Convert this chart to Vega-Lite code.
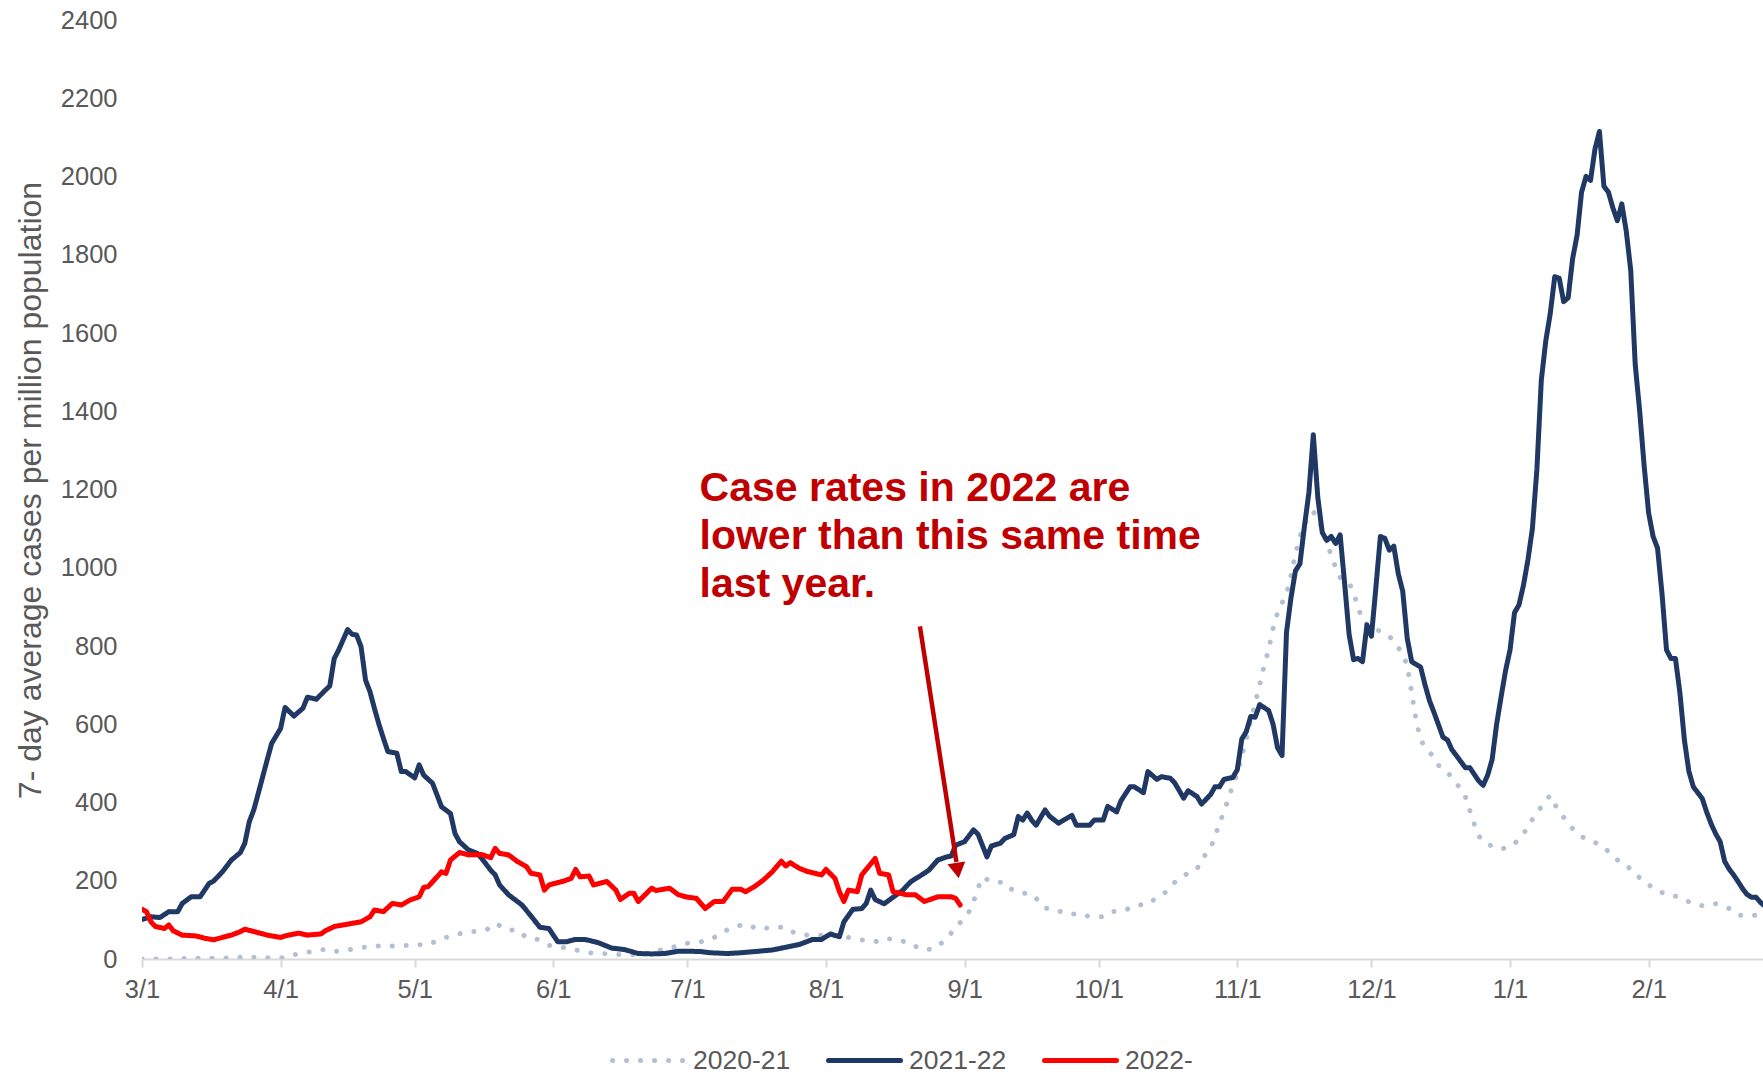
{
  "$schema": "https://vega.github.io/schema/vega-lite/v6.json",
  "width": 1621,
  "height": 939,
  "autosize": {"type": "none"},
  "padding": {"left": 142, "top": 20, "right": 0, "bottom": 116},
  "background": "white",
  "config": {"view": {"stroke": null}, "font": "Liberation Sans"},
  "datasets": {
    "cases": [
      {"date":"2021-03-01","season":"2020-21","cases":0},
      {"date":"2021-03-04","season":"2020-21","cases":0},
      {"date":"2021-03-07","season":"2020-21","cases":0},
      {"date":"2021-03-10","season":"2020-21","cases":1},
      {"date":"2021-03-13","season":"2020-21","cases":2},
      {"date":"2021-03-16","season":"2020-21","cases":2},
      {"date":"2021-03-19","season":"2020-21","cases":2},
      {"date":"2021-03-22","season":"2020-21","cases":3},
      {"date":"2021-03-24","season":"2020-21","cases":6},
      {"date":"2021-03-27","season":"2020-21","cases":4},
      {"date":"2021-03-30","season":"2020-21","cases":3},
      {"date":"2021-04-02","season":"2020-21","cases":3},
      {"date":"2021-04-05","season":"2020-21","cases":14},
      {"date":"2021-04-08","season":"2020-21","cases":19},
      {"date":"2021-04-11","season":"2020-21","cases":25},
      {"date":"2021-04-13","season":"2020-21","cases":19},
      {"date":"2021-04-16","season":"2020-21","cases":23},
      {"date":"2021-04-19","season":"2020-21","cases":29},
      {"date":"2021-04-22","season":"2020-21","cases":33},
      {"date":"2021-04-25","season":"2020-21","cases":33},
      {"date":"2021-04-28","season":"2020-21","cases":33},
      {"date":"2021-05-01","season":"2020-21","cases":37},
      {"date":"2021-05-04","season":"2020-21","cases":36},
      {"date":"2021-05-06","season":"2020-21","cases":47},
      {"date":"2021-05-09","season":"2020-21","cases":59},
      {"date":"2021-05-12","season":"2020-21","cases":67},
      {"date":"2021-05-14","season":"2020-21","cases":70},
      {"date":"2021-05-17","season":"2020-21","cases":74},
      {"date":"2021-05-19","season":"2020-21","cases":91},
      {"date":"2021-05-22","season":"2020-21","cases":74},
      {"date":"2021-05-24","season":"2020-21","cases":74},
      {"date":"2021-05-26","season":"2020-21","cases":55},
      {"date":"2021-05-29","season":"2020-21","cases":49},
      {"date":"2021-05-31","season":"2020-21","cases":35},
      {"date":"2021-06-03","season":"2020-21","cases":30},
      {"date":"2021-06-06","season":"2020-21","cases":23},
      {"date":"2021-06-09","season":"2020-21","cases":16},
      {"date":"2021-06-11","season":"2020-21","cases":14},
      {"date":"2021-06-14","season":"2020-21","cases":13},
      {"date":"2021-06-17","season":"2020-21","cases":10},
      {"date":"2021-06-20","season":"2020-21","cases":12},
      {"date":"2021-06-23","season":"2020-21","cases":16},
      {"date":"2021-06-25","season":"2020-21","cases":23},
      {"date":"2021-06-28","season":"2020-21","cases":31},
      {"date":"2021-07-01","season":"2020-21","cases":40},
      {"date":"2021-07-04","season":"2020-21","cases":44},
      {"date":"2021-07-07","season":"2020-21","cases":55},
      {"date":"2021-07-09","season":"2020-21","cases":70},
      {"date":"2021-07-12","season":"2020-21","cases":84},
      {"date":"2021-07-14","season":"2020-21","cases":89},
      {"date":"2021-07-17","season":"2020-21","cases":76},
      {"date":"2021-07-20","season":"2020-21","cases":81},
      {"date":"2021-07-23","season":"2020-21","cases":81},
      {"date":"2021-07-25","season":"2020-21","cases":66},
      {"date":"2021-07-28","season":"2020-21","cases":61},
      {"date":"2021-07-31","season":"2020-21","cases":61},
      {"date":"2021-08-03","season":"2020-21","cases":59},
      {"date":"2021-08-06","season":"2020-21","cases":55},
      {"date":"2021-08-09","season":"2020-21","cases":49},
      {"date":"2021-08-12","season":"2020-21","cases":44},
      {"date":"2021-08-14","season":"2020-21","cases":53},
      {"date":"2021-08-17","season":"2020-21","cases":49},
      {"date":"2021-08-20","season":"2020-21","cases":40},
      {"date":"2021-08-22","season":"2020-21","cases":25},
      {"date":"2021-08-25","season":"2020-21","cases":25},
      {"date":"2021-08-27","season":"2020-21","cases":42},
      {"date":"2021-08-29","season":"2020-21","cases":66},
      {"date":"2021-08-31","season":"2020-21","cases":93},
      {"date":"2021-09-02","season":"2020-21","cases":121},
      {"date":"2021-09-03","season":"2020-21","cases":147},
      {"date":"2021-09-04","season":"2020-21","cases":181},
      {"date":"2021-09-05","season":"2020-21","cases":209},
      {"date":"2021-09-07","season":"2020-21","cases":198},
      {"date":"2021-09-10","season":"2020-21","cases":195},
      {"date":"2021-09-11","season":"2020-21","cases":181},
      {"date":"2021-09-13","season":"2020-21","cases":170},
      {"date":"2021-09-16","season":"2020-21","cases":166},
      {"date":"2021-09-18","season":"2020-21","cases":144},
      {"date":"2021-09-19","season":"2020-21","cases":130},
      {"date":"2021-09-21","season":"2020-21","cases":127},
      {"date":"2021-09-24","season":"2020-21","cases":115},
      {"date":"2021-09-27","season":"2020-21","cases":115},
      {"date":"2021-09-29","season":"2020-21","cases":108},
      {"date":"2021-10-02","season":"2020-21","cases":108},
      {"date":"2021-10-04","season":"2020-21","cases":121},
      {"date":"2021-10-07","season":"2020-21","cases":125},
      {"date":"2021-10-09","season":"2020-21","cases":137},
      {"date":"2021-10-12","season":"2020-21","cases":140},
      {"date":"2021-10-14","season":"2020-21","cases":157},
      {"date":"2021-10-16","season":"2020-21","cases":171},
      {"date":"2021-10-18","season":"2020-21","cases":196},
      {"date":"2021-10-21","season":"2020-21","cases":220},
      {"date":"2021-10-23","season":"2020-21","cases":230},
      {"date":"2021-10-24","season":"2020-21","cases":254},
      {"date":"2021-10-26","season":"2020-21","cases":283},
      {"date":"2021-10-27","season":"2020-21","cases":313},
      {"date":"2021-10-28","season":"2020-21","cases":347},
      {"date":"2021-10-29","season":"2020-21","cases":376},
      {"date":"2021-10-30","season":"2020-21","cases":410},
      {"date":"2021-10-31","season":"2020-21","cases":444},
      {"date":"2021-11-01","season":"2020-21","cases":474},
      {"date":"2021-11-02","season":"2020-21","cases":520},
      {"date":"2021-11-03","season":"2020-21","cases":560},
      {"date":"2021-11-04","season":"2020-21","cases":610},
      {"date":"2021-11-05","season":"2020-21","cases":655},
      {"date":"2021-11-06","season":"2020-21","cases":700},
      {"date":"2021-11-07","season":"2020-21","cases":750},
      {"date":"2021-11-08","season":"2020-21","cases":790},
      {"date":"2021-11-09","season":"2020-21","cases":845},
      {"date":"2021-11-10","season":"2020-21","cases":885},
      {"date":"2021-11-11","season":"2020-21","cases":910},
      {"date":"2021-11-12","season":"2020-21","cases":933},
      {"date":"2021-11-13","season":"2020-21","cases":980},
      {"date":"2021-11-14","season":"2020-21","cases":1035},
      {"date":"2021-11-15","season":"2020-21","cases":1080},
      {"date":"2021-11-16","season":"2020-21","cases":1110},
      {"date":"2021-11-17","season":"2020-21","cases":1134},
      {"date":"2021-11-18","season":"2020-21","cases":1143},
      {"date":"2021-11-19","season":"2020-21","cases":1125},
      {"date":"2021-11-20","season":"2020-21","cases":1100},
      {"date":"2021-11-21","season":"2020-21","cases":1062},
      {"date":"2021-11-22","season":"2020-21","cases":1033},
      {"date":"2021-11-23","season":"2020-21","cases":1000},
      {"date":"2021-11-24","season":"2020-21","cases":975},
      {"date":"2021-11-26","season":"2020-21","cases":962},
      {"date":"2021-11-27","season":"2020-21","cases":935},
      {"date":"2021-11-28","season":"2020-21","cases":900},
      {"date":"2021-11-29","season":"2020-21","cases":865},
      {"date":"2021-12-01","season":"2020-21","cases":845},
      {"date":"2021-12-03","season":"2020-21","cases":838},
      {"date":"2021-12-05","season":"2020-21","cases":825},
      {"date":"2021-12-06","season":"2020-21","cases":811},
      {"date":"2021-12-08","season":"2020-21","cases":780},
      {"date":"2021-12-09","season":"2020-21","cases":750},
      {"date":"2021-12-10","season":"2020-21","cases":680},
      {"date":"2021-12-11","season":"2020-21","cases":610},
      {"date":"2021-12-12","season":"2020-21","cases":560},
      {"date":"2021-12-13","season":"2020-21","cases":542},
      {"date":"2021-12-15","season":"2020-21","cases":515},
      {"date":"2021-12-16","season":"2020-21","cases":495},
      {"date":"2021-12-18","season":"2020-21","cases":477},
      {"date":"2021-12-20","season":"2020-21","cases":450},
      {"date":"2021-12-22","season":"2020-21","cases":415},
      {"date":"2021-12-23","season":"2020-21","cases":380},
      {"date":"2021-12-24","season":"2020-21","cases":345},
      {"date":"2021-12-25","season":"2020-21","cases":315},
      {"date":"2021-12-26","season":"2020-21","cases":300},
      {"date":"2021-12-28","season":"2020-21","cases":288},
      {"date":"2021-12-30","season":"2020-21","cases":281},
      {"date":"2022-01-01","season":"2020-21","cases":287},
      {"date":"2022-01-02","season":"2020-21","cases":295},
      {"date":"2022-01-04","season":"2020-21","cases":319},
      {"date":"2022-01-05","season":"2020-21","cases":340},
      {"date":"2022-01-07","season":"2020-21","cases":373},
      {"date":"2022-01-09","season":"2020-21","cases":405},
      {"date":"2022-01-10","season":"2020-21","cases":418},
      {"date":"2022-01-11","season":"2020-21","cases":395},
      {"date":"2022-01-13","season":"2020-21","cases":362},
      {"date":"2022-01-15","season":"2020-21","cases":333},
      {"date":"2022-01-17","season":"2020-21","cases":313},
      {"date":"2022-01-19","season":"2020-21","cases":301},
      {"date":"2022-01-21","season":"2020-21","cases":294},
      {"date":"2022-01-23","season":"2020-21","cases":275},
      {"date":"2022-01-25","season":"2020-21","cases":253},
      {"date":"2022-01-27","season":"2020-21","cases":241},
      {"date":"2022-01-29","season":"2020-21","cases":215},
      {"date":"2022-01-31","season":"2020-21","cases":201},
      {"date":"2022-02-02","season":"2020-21","cases":180},
      {"date":"2022-02-05","season":"2020-21","cases":165},
      {"date":"2022-02-08","season":"2020-21","cases":158},
      {"date":"2022-02-10","season":"2020-21","cases":146},
      {"date":"2022-02-13","season":"2020-21","cases":136},
      {"date":"2022-02-16","season":"2020-21","cases":141},
      {"date":"2022-02-19","season":"2020-21","cases":129},
      {"date":"2022-02-21","season":"2020-21","cases":112},
      {"date":"2022-02-24","season":"2020-21","cases":112},
      {"date":"2022-02-27","season":"2020-21","cases":112},

      {"date":"2021-03-01","season":"2021-22","cases":101},
      {"date":"2021-03-03","season":"2021-22","cases":108},
      {"date":"2021-03-05","season":"2021-22","cases":106},
      {"date":"2021-03-07","season":"2021-22","cases":121},
      {"date":"2021-03-09","season":"2021-22","cases":121},
      {"date":"2021-03-10","season":"2021-22","cases":142},
      {"date":"2021-03-12","season":"2021-22","cases":159},
      {"date":"2021-03-14","season":"2021-22","cases":159},
      {"date":"2021-03-16","season":"2021-22","cases":193},
      {"date":"2021-03-17","season":"2021-22","cases":199},
      {"date":"2021-03-19","season":"2021-22","cases":223},
      {"date":"2021-03-21","season":"2021-22","cases":253},
      {"date":"2021-03-23","season":"2021-22","cases":272},
      {"date":"2021-03-24","season":"2021-22","cases":296},
      {"date":"2021-03-25","season":"2021-22","cases":351},
      {"date":"2021-03-26","season":"2021-22","cases":381},
      {"date":"2021-03-27","season":"2021-22","cases":423},
      {"date":"2021-03-29","season":"2021-22","cases":509},
      {"date":"2021-03-30","season":"2021-22","cases":551},
      {"date":"2021-04-01","season":"2021-22","cases":589},
      {"date":"2021-04-02","season":"2021-22","cases":643},
      {"date":"2021-04-04","season":"2021-22","cases":621},
      {"date":"2021-04-06","season":"2021-22","cases":641},
      {"date":"2021-04-07","season":"2021-22","cases":669},
      {"date":"2021-04-09","season":"2021-22","cases":664},
      {"date":"2021-04-11","season":"2021-22","cases":687},
      {"date":"2021-04-12","season":"2021-22","cases":698},
      {"date":"2021-04-13","season":"2021-22","cases":768},
      {"date":"2021-04-14","season":"2021-22","cases":790},
      {"date":"2021-04-16","season":"2021-22","cases":842},
      {"date":"2021-04-17","season":"2021-22","cases":830},
      {"date":"2021-04-18","season":"2021-22","cases":828},
      {"date":"2021-04-19","season":"2021-22","cases":798},
      {"date":"2021-04-20","season":"2021-22","cases":713},
      {"date":"2021-04-21","season":"2021-22","cases":683},
      {"date":"2021-04-22","season":"2021-22","cases":640},
      {"date":"2021-04-23","season":"2021-22","cases":600},
      {"date":"2021-04-24","season":"2021-22","cases":564},
      {"date":"2021-04-25","season":"2021-22","cases":530},
      {"date":"2021-04-27","season":"2021-22","cases":526},
      {"date":"2021-04-28","season":"2021-22","cases":479},
      {"date":"2021-04-29","season":"2021-22","cases":479},
      {"date":"2021-05-01","season":"2021-22","cases":463},
      {"date":"2021-05-02","season":"2021-22","cases":496},
      {"date":"2021-05-03","season":"2021-22","cases":470},
      {"date":"2021-05-05","season":"2021-22","cases":449},
      {"date":"2021-05-06","season":"2021-22","cases":419},
      {"date":"2021-05-07","season":"2021-22","cases":389},
      {"date":"2021-05-09","season":"2021-22","cases":372},
      {"date":"2021-05-10","season":"2021-22","cases":321},
      {"date":"2021-05-11","season":"2021-22","cases":300},
      {"date":"2021-05-13","season":"2021-22","cases":279},
      {"date":"2021-05-15","season":"2021-22","cases":270},
      {"date":"2021-05-16","season":"2021-22","cases":257},
      {"date":"2021-05-18","season":"2021-22","cases":227},
      {"date":"2021-05-19","season":"2021-22","cases":215},
      {"date":"2021-05-20","season":"2021-22","cases":189},
      {"date":"2021-05-22","season":"2021-22","cases":164},
      {"date":"2021-05-25","season":"2021-22","cases":138},
      {"date":"2021-05-27","season":"2021-22","cases":110},
      {"date":"2021-05-29","season":"2021-22","cases":81},
      {"date":"2021-05-31","season":"2021-22","cases":78},
      {"date":"2021-06-02","season":"2021-22","cases":44},
      {"date":"2021-06-04","season":"2021-22","cases":44},
      {"date":"2021-06-06","season":"2021-22","cases":50},
      {"date":"2021-06-08","season":"2021-22","cases":50},
      {"date":"2021-06-11","season":"2021-22","cases":42},
      {"date":"2021-06-14","season":"2021-22","cases":28},
      {"date":"2021-06-17","season":"2021-22","cases":24},
      {"date":"2021-06-20","season":"2021-22","cases":14},
      {"date":"2021-06-23","season":"2021-22","cases":13},
      {"date":"2021-06-26","season":"2021-22","cases":14},
      {"date":"2021-06-29","season":"2021-22","cases":20},
      {"date":"2021-07-01","season":"2021-22","cases":20},
      {"date":"2021-07-04","season":"2021-22","cases":19},
      {"date":"2021-07-06","season":"2021-22","cases":16},
      {"date":"2021-07-10","season":"2021-22","cases":14},
      {"date":"2021-07-13","season":"2021-22","cases":16},
      {"date":"2021-07-16","season":"2021-22","cases":19},
      {"date":"2021-07-20","season":"2021-22","cases":23},
      {"date":"2021-07-23","season":"2021-22","cases":30},
      {"date":"2021-07-26","season":"2021-22","cases":37},
      {"date":"2021-07-29","season":"2021-22","cases":50},
      {"date":"2021-07-31","season":"2021-22","cases":50},
      {"date":"2021-08-02","season":"2021-22","cases":64},
      {"date":"2021-08-04","season":"2021-22","cases":57},
      {"date":"2021-08-05","season":"2021-22","cases":95},
      {"date":"2021-08-07","season":"2021-22","cases":127},
      {"date":"2021-08-09","season":"2021-22","cases":129},
      {"date":"2021-08-10","season":"2021-22","cases":142},
      {"date":"2021-08-11","season":"2021-22","cases":176},
      {"date":"2021-08-12","season":"2021-22","cases":152},
      {"date":"2021-08-14","season":"2021-22","cases":141},
      {"date":"2021-08-16","season":"2021-22","cases":158},
      {"date":"2021-08-18","season":"2021-22","cases":174},
      {"date":"2021-08-20","season":"2021-22","cases":198},
      {"date":"2021-08-22","season":"2021-22","cases":212},
      {"date":"2021-08-24","season":"2021-22","cases":227},
      {"date":"2021-08-26","season":"2021-22","cases":253},
      {"date":"2021-08-28","season":"2021-22","cases":261},
      {"date":"2021-08-29","season":"2021-22","cases":263},
      {"date":"2021-08-30","season":"2021-22","cases":291},
      {"date":"2021-09-01","season":"2021-22","cases":300},
      {"date":"2021-09-03","season":"2021-22","cases":330},
      {"date":"2021-09-04","season":"2021-22","cases":319},
      {"date":"2021-09-06","season":"2021-22","cases":261},
      {"date":"2021-09-07","season":"2021-22","cases":289},
      {"date":"2021-09-09","season":"2021-22","cases":296},
      {"date":"2021-09-10","season":"2021-22","cases":308},
      {"date":"2021-09-12","season":"2021-22","cases":318},
      {"date":"2021-09-13","season":"2021-22","cases":364},
      {"date":"2021-09-14","season":"2021-22","cases":355},
      {"date":"2021-09-15","season":"2021-22","cases":373},
      {"date":"2021-09-16","season":"2021-22","cases":355},
      {"date":"2021-09-17","season":"2021-22","cases":342},
      {"date":"2021-09-19","season":"2021-22","cases":381},
      {"date":"2021-09-20","season":"2021-22","cases":365},
      {"date":"2021-09-22","season":"2021-22","cases":347},
      {"date":"2021-09-25","season":"2021-22","cases":367},
      {"date":"2021-09-26","season":"2021-22","cases":342},
      {"date":"2021-09-29","season":"2021-22","cases":342},
      {"date":"2021-09-30","season":"2021-22","cases":355},
      {"date":"2021-10-02","season":"2021-22","cases":355},
      {"date":"2021-10-03","season":"2021-22","cases":390},
      {"date":"2021-10-05","season":"2021-22","cases":376},
      {"date":"2021-10-06","season":"2021-22","cases":405},
      {"date":"2021-10-08","season":"2021-22","cases":440},
      {"date":"2021-10-09","season":"2021-22","cases":440},
      {"date":"2021-10-11","season":"2021-22","cases":425},
      {"date":"2021-10-12","season":"2021-22","cases":479},
      {"date":"2021-10-14","season":"2021-22","cases":459},
      {"date":"2021-10-15","season":"2021-22","cases":466},
      {"date":"2021-10-17","season":"2021-22","cases":462},
      {"date":"2021-10-18","season":"2021-22","cases":450},
      {"date":"2021-10-20","season":"2021-22","cases":411},
      {"date":"2021-10-21","season":"2021-22","cases":430},
      {"date":"2021-10-23","season":"2021-22","cases":415},
      {"date":"2021-10-24","season":"2021-22","cases":396},
      {"date":"2021-10-26","season":"2021-22","cases":420},
      {"date":"2021-10-27","season":"2021-22","cases":440},
      {"date":"2021-10-28","season":"2021-22","cases":440},
      {"date":"2021-10-29","season":"2021-22","cases":459},
      {"date":"2021-10-31","season":"2021-22","cases":464},
      {"date":"2021-11-01","season":"2021-22","cases":484},
      {"date":"2021-11-02","season":"2021-22","cases":562},
      {"date":"2021-11-03","season":"2021-22","cases":581},
      {"date":"2021-11-04","season":"2021-22","cases":620},
      {"date":"2021-11-05","season":"2021-22","cases":618},
      {"date":"2021-11-06","season":"2021-22","cases":650},
      {"date":"2021-11-08","season":"2021-22","cases":635},
      {"date":"2021-11-09","season":"2021-22","cases":600},
      {"date":"2021-11-10","season":"2021-22","cases":540},
      {"date":"2021-11-11","season":"2021-22","cases":520},
      {"date":"2021-11-12","season":"2021-22","cases":835},
      {"date":"2021-11-13","season":"2021-22","cases":923},
      {"date":"2021-11-14","season":"2021-22","cases":992},
      {"date":"2021-11-15","season":"2021-22","cases":1010},
      {"date":"2021-11-16","season":"2021-22","cases":1105},
      {"date":"2021-11-17","season":"2021-22","cases":1191},
      {"date":"2021-11-18","season":"2021-22","cases":1340},
      {"date":"2021-11-19","season":"2021-22","cases":1180},
      {"date":"2021-11-20","season":"2021-22","cases":1090},
      {"date":"2021-11-21","season":"2021-22","cases":1070},
      {"date":"2021-11-22","season":"2021-22","cases":1080},
      {"date":"2021-11-23","season":"2021-22","cases":1062},
      {"date":"2021-11-24","season":"2021-22","cases":1084},
      {"date":"2021-11-25","season":"2021-22","cases":960},
      {"date":"2021-11-26","season":"2021-22","cases":830},
      {"date":"2021-11-27","season":"2021-22","cases":765},
      {"date":"2021-11-28","season":"2021-22","cases":768},
      {"date":"2021-11-29","season":"2021-22","cases":760},
      {"date":"2021-11-30","season":"2021-22","cases":854},
      {"date":"2021-12-01","season":"2021-22","cases":825},
      {"date":"2021-12-02","season":"2021-22","cases":950},
      {"date":"2021-12-03","season":"2021-22","cases":1080},
      {"date":"2021-12-04","season":"2021-22","cases":1075},
      {"date":"2021-12-05","season":"2021-22","cases":1045},
      {"date":"2021-12-06","season":"2021-22","cases":1055},
      {"date":"2021-12-07","season":"2021-22","cases":985},
      {"date":"2021-12-08","season":"2021-22","cases":940},
      {"date":"2021-12-09","season":"2021-22","cases":820},
      {"date":"2021-12-10","season":"2021-22","cases":760},
      {"date":"2021-12-12","season":"2021-22","cases":746},
      {"date":"2021-12-13","season":"2021-22","cases":700},
      {"date":"2021-12-14","season":"2021-22","cases":660},
      {"date":"2021-12-15","season":"2021-22","cases":630},
      {"date":"2021-12-17","season":"2021-22","cases":567},
      {"date":"2021-12-18","season":"2021-22","cases":560},
      {"date":"2021-12-19","season":"2021-22","cases":535},
      {"date":"2021-12-20","season":"2021-22","cases":520},
      {"date":"2021-12-22","season":"2021-22","cases":489},
      {"date":"2021-12-23","season":"2021-22","cases":489},
      {"date":"2021-12-25","season":"2021-22","cases":455},
      {"date":"2021-12-26","season":"2021-22","cases":444},
      {"date":"2021-12-27","season":"2021-22","cases":470},
      {"date":"2021-12-28","season":"2021-22","cases":510},
      {"date":"2021-12-29","season":"2021-22","cases":600},
      {"date":"2021-12-30","season":"2021-22","cases":670},
      {"date":"2021-12-31","season":"2021-22","cases":737},
      {"date":"2022-01-01","season":"2021-22","cases":790},
      {"date":"2022-01-02","season":"2021-22","cases":885},
      {"date":"2022-01-03","season":"2021-22","cases":905},
      {"date":"2022-01-04","season":"2021-22","cases":955},
      {"date":"2022-01-05","season":"2021-22","cases":1020},
      {"date":"2022-01-06","season":"2021-22","cases":1100},
      {"date":"2022-01-07","season":"2021-22","cases":1250},
      {"date":"2022-01-08","season":"2021-22","cases":1480},
      {"date":"2022-01-09","season":"2021-22","cases":1580},
      {"date":"2022-01-10","season":"2021-22","cases":1650},
      {"date":"2022-01-11","season":"2021-22","cases":1744},
      {"date":"2022-01-12","season":"2021-22","cases":1740},
      {"date":"2022-01-13","season":"2021-22","cases":1680},
      {"date":"2022-01-14","season":"2021-22","cases":1690},
      {"date":"2022-01-15","season":"2021-22","cases":1790},
      {"date":"2022-01-16","season":"2021-22","cases":1850},
      {"date":"2022-01-17","season":"2021-22","cases":1960},
      {"date":"2022-01-18","season":"2021-22","cases":2000},
      {"date":"2022-01-19","season":"2021-22","cases":1990},
      {"date":"2022-01-20","season":"2021-22","cases":2070},
      {"date":"2022-01-21","season":"2021-22","cases":2115},
      {"date":"2022-01-22","season":"2021-22","cases":1975},
      {"date":"2022-01-23","season":"2021-22","cases":1960},
      {"date":"2022-01-24","season":"2021-22","cases":1920},
      {"date":"2022-01-25","season":"2021-22","cases":1887},
      {"date":"2022-01-26","season":"2021-22","cases":1930},
      {"date":"2022-01-27","season":"2021-22","cases":1860},
      {"date":"2022-01-28","season":"2021-22","cases":1760},
      {"date":"2022-01-29","season":"2021-22","cases":1520},
      {"date":"2022-01-30","season":"2021-22","cases":1400},
      {"date":"2022-01-31","season":"2021-22","cases":1260},
      {"date":"2022-02-01","season":"2021-22","cases":1140},
      {"date":"2022-02-02","season":"2021-22","cases":1080},
      {"date":"2022-02-03","season":"2021-22","cases":1050},
      {"date":"2022-02-04","season":"2021-22","cases":933},
      {"date":"2022-02-05","season":"2021-22","cases":790},
      {"date":"2022-02-06","season":"2021-22","cases":768},
      {"date":"2022-02-07","season":"2021-22","cases":768},
      {"date":"2022-02-08","season":"2021-22","cases":680},
      {"date":"2022-02-09","season":"2021-22","cases":560},
      {"date":"2022-02-10","season":"2021-22","cases":480},
      {"date":"2022-02-11","season":"2021-22","cases":440},
      {"date":"2022-02-12","season":"2021-22","cases":425},
      {"date":"2022-02-13","season":"2021-22","cases":410},
      {"date":"2022-02-14","season":"2021-22","cases":375},
      {"date":"2022-02-15","season":"2021-22","cases":345},
      {"date":"2022-02-16","season":"2021-22","cases":320},
      {"date":"2022-02-17","season":"2021-22","cases":300},
      {"date":"2022-02-18","season":"2021-22","cases":250},
      {"date":"2022-02-19","season":"2021-22","cases":230},
      {"date":"2022-02-20","season":"2021-22","cases":215},
      {"date":"2022-02-21","season":"2021-22","cases":198},
      {"date":"2022-02-22","season":"2021-22","cases":180},
      {"date":"2022-02-23","season":"2021-22","cases":165},
      {"date":"2022-02-24","season":"2021-22","cases":158},
      {"date":"2022-02-25","season":"2021-22","cases":158},
      {"date":"2022-02-26","season":"2021-22","cases":145},
      {"date":"2022-02-27","season":"2021-22","cases":135},

      {"date":"2021-03-01","season":"2022-","cases":127},
      {"date":"2021-03-02","season":"2022-","cases":121},
      {"date":"2021-03-03","season":"2022-","cases":95},
      {"date":"2021-03-04","season":"2022-","cases":83},
      {"date":"2021-03-06","season":"2022-","cases":78},
      {"date":"2021-03-07","season":"2022-","cases":87},
      {"date":"2021-03-08","season":"2022-","cases":72},
      {"date":"2021-03-10","season":"2022-","cases":61},
      {"date":"2021-03-13","season":"2022-","cases":59},
      {"date":"2021-03-15","season":"2022-","cases":53},
      {"date":"2021-03-17","season":"2022-","cases":49},
      {"date":"2021-03-19","season":"2022-","cases":55},
      {"date":"2021-03-21","season":"2022-","cases":61},
      {"date":"2021-03-23","season":"2022-","cases":70},
      {"date":"2021-03-24","season":"2022-","cases":76},
      {"date":"2021-03-27","season":"2022-","cases":67},
      {"date":"2021-03-29","season":"2022-","cases":61},
      {"date":"2021-04-01","season":"2022-","cases":55},
      {"date":"2021-04-02","season":"2022-","cases":59},
      {"date":"2021-04-05","season":"2022-","cases":66},
      {"date":"2021-04-07","season":"2022-","cases":61},
      {"date":"2021-04-10","season":"2022-","cases":64},
      {"date":"2021-04-11","season":"2022-","cases":72},
      {"date":"2021-04-13","season":"2022-","cases":83},
      {"date":"2021-04-15","season":"2022-","cases":87},
      {"date":"2021-04-17","season":"2022-","cases":91},
      {"date":"2021-04-19","season":"2022-","cases":95},
      {"date":"2021-04-21","season":"2022-","cases":108},
      {"date":"2021-04-22","season":"2022-","cases":125},
      {"date":"2021-04-24","season":"2022-","cases":121},
      {"date":"2021-04-26","season":"2022-","cases":142},
      {"date":"2021-04-28","season":"2022-","cases":138},
      {"date":"2021-04-30","season":"2022-","cases":151},
      {"date":"2021-05-02","season":"2022-","cases":159},
      {"date":"2021-05-03","season":"2022-","cases":183},
      {"date":"2021-05-04","season":"2022-","cases":185},
      {"date":"2021-05-06","season":"2022-","cases":210},
      {"date":"2021-05-07","season":"2022-","cases":223},
      {"date":"2021-05-08","season":"2022-","cases":219},
      {"date":"2021-05-09","season":"2022-","cases":253},
      {"date":"2021-05-11","season":"2022-","cases":272},
      {"date":"2021-05-13","season":"2022-","cases":266},
      {"date":"2021-05-16","season":"2022-","cases":267},
      {"date":"2021-05-18","season":"2022-","cases":259},
      {"date":"2021-05-19","season":"2022-","cases":283},
      {"date":"2021-05-20","season":"2022-","cases":270},
      {"date":"2021-05-22","season":"2022-","cases":266},
      {"date":"2021-05-24","season":"2022-","cases":249},
      {"date":"2021-05-26","season":"2022-","cases":236},
      {"date":"2021-05-27","season":"2022-","cases":219},
      {"date":"2021-05-29","season":"2022-","cases":215},
      {"date":"2021-05-30","season":"2022-","cases":176},
      {"date":"2021-05-31","season":"2022-","cases":189},
      {"date":"2021-06-03","season":"2022-","cases":198},
      {"date":"2021-06-05","season":"2022-","cases":206},
      {"date":"2021-06-06","season":"2022-","cases":229},
      {"date":"2021-06-07","season":"2022-","cases":210},
      {"date":"2021-06-09","season":"2022-","cases":212},
      {"date":"2021-06-10","season":"2022-","cases":189},
      {"date":"2021-06-13","season":"2022-","cases":198},
      {"date":"2021-06-15","season":"2022-","cases":176},
      {"date":"2021-06-16","season":"2022-","cases":152},
      {"date":"2021-06-18","season":"2022-","cases":168},
      {"date":"2021-06-19","season":"2022-","cases":168},
      {"date":"2021-06-20","season":"2022-","cases":147},
      {"date":"2021-06-23","season":"2022-","cases":181},
      {"date":"2021-06-24","season":"2022-","cases":175},
      {"date":"2021-06-27","season":"2022-","cases":181},
      {"date":"2021-06-29","season":"2022-","cases":164},
      {"date":"2021-07-01","season":"2022-","cases":158},
      {"date":"2021-07-03","season":"2022-","cases":155},
      {"date":"2021-07-05","season":"2022-","cases":129},
      {"date":"2021-07-07","season":"2022-","cases":147},
      {"date":"2021-07-09","season":"2022-","cases":147},
      {"date":"2021-07-11","season":"2022-","cases":178},
      {"date":"2021-07-13","season":"2022-","cases":178},
      {"date":"2021-07-14","season":"2022-","cases":172},
      {"date":"2021-07-16","season":"2022-","cases":185},
      {"date":"2021-07-18","season":"2022-","cases":202},
      {"date":"2021-07-20","season":"2022-","cases":223},
      {"date":"2021-07-22","season":"2022-","cases":250},
      {"date":"2021-07-23","season":"2022-","cases":238},
      {"date":"2021-07-24","season":"2022-","cases":246},
      {"date":"2021-07-26","season":"2022-","cases":232},
      {"date":"2021-07-28","season":"2022-","cases":223},
      {"date":"2021-07-31","season":"2022-","cases":215},
      {"date":"2021-08-01","season":"2022-","cases":229},
      {"date":"2021-08-03","season":"2022-","cases":206},
      {"date":"2021-08-04","season":"2022-","cases":172},
      {"date":"2021-08-05","season":"2022-","cases":147},
      {"date":"2021-08-06","season":"2022-","cases":176},
      {"date":"2021-08-08","season":"2022-","cases":172},
      {"date":"2021-08-09","season":"2022-","cases":215},
      {"date":"2021-08-12","season":"2022-","cases":257},
      {"date":"2021-08-13","season":"2022-","cases":219},
      {"date":"2021-08-15","season":"2022-","cases":215},
      {"date":"2021-08-16","season":"2022-","cases":172},
      {"date":"2021-08-19","season":"2022-","cases":164},
      {"date":"2021-08-21","season":"2022-","cases":164},
      {"date":"2021-08-23","season":"2022-","cases":147},
      {"date":"2021-08-26","season":"2022-","cases":159},
      {"date":"2021-08-29","season":"2022-","cases":159},
      {"date":"2021-08-30","season":"2022-","cases":155},
      {"date":"2021-08-31","season":"2022-","cases":138}
    ]
  },
  "layer": [
    {
      "data": {"name": "cases", "format": {"parse": {"date": "date:'%Y-%m-%d'"}}},
      "mark": {"type": "line", "strokeWidth": 5, "strokeCap": "round", "strokeJoin": "round", "clip": true},
      "encoding": {
        "x": {
          "field": "date", "type": "temporal",
          "scale": {"domain": [{"year": 2021, "month": "mar", "date": 1}, {"year": 2022, "month": "feb", "date": 26, "hours": 14}]},
          "axis": {
            "title": null, "format": "%-m/%-d", "tickCount": {"interval": "month", "step": 1},
            "grid": false, "domainColor": "#d9d9d9", "domainWidth": 2,
            "tickColor": "#d9d9d9", "tickWidth": 2, "tickSize": 8,
            "labelFont": "Liberation Sans", "labelFontSize": 25.5, "labelColor": "#595959",
            "labelPadding": 10, "labelFlush": false, "labelOverlap": false, "labelBound": false
          }
        },
        "y": {
          "field": "cases", "type": "quantitative",
          "scale": {"domain": [0, 2400], "nice": false, "zero": true},
          "axis": {
            "title": "7- day average cases per million population",
            "values": [0, 200, 400, 600, 800, 1000, 1200, 1400, 1600, 1800, 2000, 2200, 2400],
            "format": "d",
            "grid": false, "domain": false, "ticks": false,
            "labelFont": "Liberation Sans", "labelFontSize": 25.5, "labelColor": "#595959",
            "labelPadding": 25, "labelFlush": false, "labelOverlap": false, "labelBound": false,
            "titleFont": "Liberation Sans", "titleFontSize": 32, "titleFontWeight": "normal", "titleColor": "#595959",
            "titleAngle": 270, "titleAlign": "center", "titleBaseline": "alphabetic", "titleX": -102, "titleY": 470
          }
        },
        "color": {
          "field": "season", "type": "nominal",
          "scale": {"domain": ["2020-21", "2021-22", "2022-"], "range": ["#b4c0d2", "#1f3864", "#ff0000"]},
          "legend": {
            "title": null, "orient": "none", "legendX": 468, "legendY": 1002, "direction": "horizontal",
            "symbolType": "stroke", "symbolSize": 5184, "symbolStrokeWidth": 5,
            "labelFont": "Liberation Sans", "labelFontSize": 26.5, "labelColor": "#595959",
            "labelOffset": 6, "columnPadding": 27, "padding": 0,
            "encode": {"symbols": {"update": {"strokeCap": {"value": "round"}}}}
          }
        },
        "strokeDash": {
          "field": "season", "type": "nominal",
          "scale": {"domain": ["2020-21", "2021-22", "2022-"], "range": [[0.1, 13.9], [1, 0], [1, 0]]},
          "legend": {
            "title": null, "orient": "none", "legendX": 468, "legendY": 1002, "direction": "horizontal",
            "symbolType": "stroke", "symbolSize": 5184, "symbolStrokeWidth": 5,
            "labelFont": "Liberation Sans", "labelFontSize": 26.5, "labelColor": "#595959",
            "labelOffset": 6, "columnPadding": 27, "padding": 0,
            "encode": {"symbols": {"update": {"strokeCap": {"value": "round"}}}}
          }
        }
      }
    },
    {
      "data": {"values": [{}]},
      "mark": {"type": "rule", "strokeWidth": 4.5, "color": "#c00000", "strokeCap": "butt"},
      "encoding": {
        "x": {"datum": {"year": 2021, "month": "aug", "date": 22}, "type": "temporal"},
        "y": {"datum": 850, "type": "quantitative"},
        "x2": {"datum": {"year": 2021, "month": "aug", "date": 30, "hours": 4}},
        "y2": {"datum": 248}
      }
    },
    {
      "data": {"values": [{}]},
      "mark": {"type": "point", "shape": "triangle-down", "filled": true, "size": 324, "angle": -8.75, "color": "#c00000", "opacity": 1},
      "encoding": {
        "x": {"datum": {"year": 2021, "month": "aug", "date": 30, "hours": 10}, "type": "temporal"},
        "y": {"datum": 226, "type": "quantitative"}
      }
    },
    {
      "data": {"values": [{}]},
      "mark": {
        "type": "text", "text": ["Case rates in 2022 are", "lower than this same time", "last year."],
        "font": "Liberation Sans", "fontWeight": "bold", "fontSize": 41, "lineHeight": 48,
        "align": "left", "baseline": "alphabetic", "color": "#c00000"
      },
      "encoding": {
        "x": {"datum": {"year": 2021, "month": "jul", "date": 3, "hours": 17}, "type": "temporal"},
        "y": {"datum": 1171, "type": "quantitative"}
      }
    }
  ]
}
